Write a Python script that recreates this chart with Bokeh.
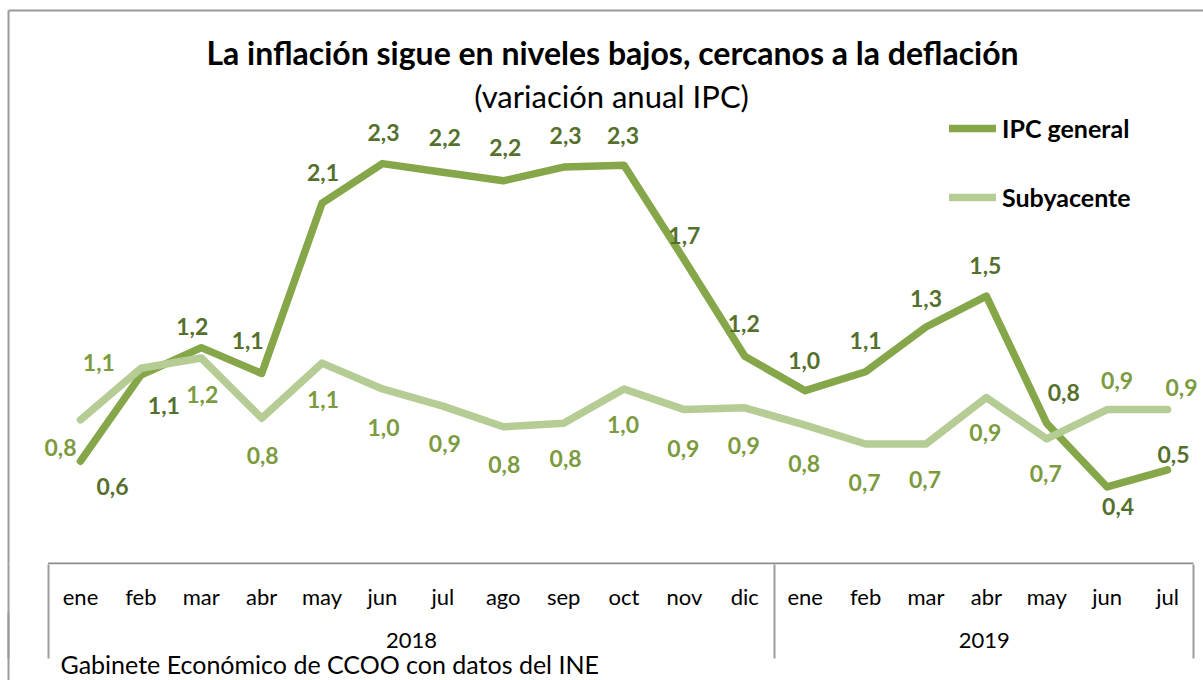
from bokeh.plotting import figure
from bokeh.models import (Range1d, LinearAxis, FixedTicker, Legend, LegendItem,
                          ColumnDataSource, Title)
from bokeh.core.properties import value
from bokeh.embed import file_html
from bokeh.resources import INLINE

# ---------------- data ----------------
months = ["ene", "feb", "mar", "abr", "may", "jun", "jul", "ago", "sep", "oct", "nov", "dic",
          "ene", "feb", "mar", "abr", "may", "jun", "jul"]
years = ["2018", "2019"]
months_per_year = [12, 7]
ipc_general = [0.56, 1.06, 1.22, 1.07, 2.06, 2.29, 2.24, 2.19, 2.27, 2.28, 1.73, 1.17,
               0.97, 1.08, 1.34, 1.52, 0.78, 0.41, 0.51]
subyacente = [0.80, 1.10, 1.16, 0.81, 1.13, 0.98, 0.88, 0.76, 0.78, 0.98, 0.86, 0.87,
              0.77, 0.66, 0.66, 0.93, 0.69, 0.86, 0.86]

title_text = "La inflación sigue en niveles bajos, cercanos a la deflación"
subtitle_text = "(variación anual IPC)"
footer_text = "Gabinete Económico de CCOO con datos del INE"
series_names = ["IPC general", "Subyacente"]

# ---------------- label placement (pixels) ----------------
ipc_dx = [32, 23, -9, -14, 1, 1, 2, 2, 2, -1, 0, -1, -1, 0, 0, -1, 17, 11, 6]
ipc_dy = [25, 30, -21, -33, -31, -31, -35, -33, -32, -30, -24, -33, -30, -31, -29, -31, -31, 20, -15]
sub_dx = [-20, -42, 1, 1, 1, 1, 2, 1, 2, -1, -1, -1, -1, -1, -1, -1, -1, 10, 14]
sub_dy = [28, -6, 37, 37, 36, 39, 37, 38, 35, 36, 39, 38, 38, 39, 36, 35, 35, -29, -22]

# ---------------- styles ----------------
FONT = "Lato"
IPC_LINE = "#86A64A"
SUB_LINE = "#B6CC95"
IPC_LABEL = "#55702D"
SUB_LABEL = "#7C9B3E"
BOX_GRAY = "#8E8E8E"
SEP_GRAY = "#9C9C9C"
BORDER_GRAY = "#9A9A9A"

W, H = 1203, 680
FRAME_BOTTOM = 564          # pixel row where the plotting frame ends
X0, STEP = 80.0, 60.39      # pixel of first month, pixels per month
Y0, K = 557.0, 172.0        # pixel of value 0, pixels per unit


def xd(px):
    return (px - X0) / STEP


def yd(py):
    return (Y0 - py) / K


def fmt(v):
    return f"{v:.1f}".replace(".", ",")


xs = list(range(len(months)))

p = figure(width=W, height=H, output_backend="svg", toolbar_location=None,
           x_range=Range1d(xd(0), xd(W)), y_range=Range1d(yd(FRAME_BOTTOM), yd(0)),
           x_axis_type=None, y_axis_type=None,
           min_border_left=0, min_border_right=0, min_border_top=0,
           min_border_bottom=H - FRAME_BOTTOM)
p.outline_line_color = None
p.background_fill_color = "white"
p.border_fill_color = "white"

# outer chart border (inside the frame)
border_x = xd(8)
p.segment(x0=[border_x, border_x], y0=[yd(10), yd(10)], x1=[xd(W + 20), border_x],
          y1=[yd(10), yd(FRAME_BOTTOM + 5)], line_color=BORDER_GRAY, line_width=2)

# category table: top line + separators (minor ticks of the axes)
edge_left, edge_right = xd(47.5), xd(1193)
year_edges = [edge_left, months_per_year[0] - 0.5, edge_right]
p.segment(x0=[edge_left], y0=[yd(FRAME_BOTTOM - 1)], x1=[edge_right], y1=[yd(FRAME_BOTTOM - 1)],
          line_color=BOX_GRAY, line_width=2)

MONTH_TICK = 94
month_axis = LinearAxis(
    ticker=FixedTicker(ticks=xs, minor_ticks=[border_x] + year_edges),
    major_label_overrides={i: m for i, m in enumerate(months)},
    major_tick_line_color=None, major_tick_out=0, major_tick_in=0,
    minor_tick_line_color=SEP_GRAY, minor_tick_line_width=2,
    minor_tick_out=MONTH_TICK, minor_tick_in=0,
    axis_line_color=None, major_label_standoff=18 - MONTH_TICK,
    major_label_text_font=FONT, major_label_text_font_size="22px",
    major_label_text_color="black")
p.add_layout(month_axis, "below")

YEAR_TICK = 90
year_centers = [(year_edges[i] + year_edges[i + 1]) / 2 for i in range(len(years))]
year_axis = LinearAxis(
    ticker=FixedTicker(ticks=year_centers, minor_ticks=[border_x]),
    major_label_overrides={c: y for c, y in zip(year_centers, years)},
    major_tick_line_color=None, major_tick_out=0, major_tick_in=0,
    minor_tick_line_color=BORDER_GRAY, minor_tick_line_width=2,
    minor_tick_out=YEAR_TICK, minor_tick_in=0,
    axis_line_color=None, major_label_standoff=20 - YEAR_TICK,
    major_label_text_font=FONT, major_label_text_font_size="22px",
    major_label_text_color="black")
p.add_layout(year_axis, "below")

p.add_layout(Title(text=footer_text, align="left", offset=60, standoff=-8,
                   text_font=FONT, text_font_size="25px", text_font_style="normal",
                   text_color="black"), "below")

# lines
src_ipc = ColumnDataSource(dict(x=xs, y=ipc_general, t=[fmt(v) for v in ipc_general],
                                dx=ipc_dx, dy=ipc_dy))
src_sub = ColumnDataSource(dict(x=xs, y=subyacente, t=[fmt(v) for v in subyacente],
                                dx=sub_dx, dy=sub_dy))
r_ipc = p.line("x", "y", source=src_ipc, line_color=IPC_LINE, line_width=7.5,
               line_cap="round", line_join="round")
r_sub = p.line("x", "y", source=src_sub, line_color=SUB_LINE, line_width=7.5,
               line_cap="round", line_join="round")

p.text("x", "y", text="t", x_offset="dx", y_offset="dy", source=src_ipc,
       text_align="center", text_baseline="middle", text_font=value(FONT),
       text_font_style="bold", text_font_size="23px", text_color=IPC_LABEL)
p.text("x", "y", text="t", x_offset="dx", y_offset="dy", source=src_sub,
       text_align="center", text_baseline="middle", text_font=value(FONT),
       text_font_style="bold", text_font_size="23px", text_color=SUB_LABEL)

# titles
p.text(x=[xd(612)], y=[yd(52)], text=[title_text], text_align="center",
       text_baseline="middle", text_font=value(FONT), text_font_style="bold",
       text_font_size="32px", text_color="black")
p.text(x=[xd(611)], y=[yd(95)], text=[subtitle_text], text_align="center",
       text_baseline="middle", text_font=value(FONT), text_font_style="normal",
       text_font_size="31px", text_color="black")

legend = Legend(items=[LegendItem(label=series_names[0], renderers=[r_ipc]),
                       LegendItem(label=series_names[1], renderers=[r_sub])],
                location=(949, FRAME_BOTTOM - 125 - 87),
                glyph_width=47, glyph_height=24, label_height=24, spacing=39,
                label_standoff=6, padding=0, margin=0,
                border_line_color=None, background_fill_alpha=0,
                label_text_font=FONT, label_text_font_style="bold",
                label_text_font_size="25px", label_text_color="black")
p.add_layout(legend)

open("out.html", "w").write(file_html(p, INLINE))
